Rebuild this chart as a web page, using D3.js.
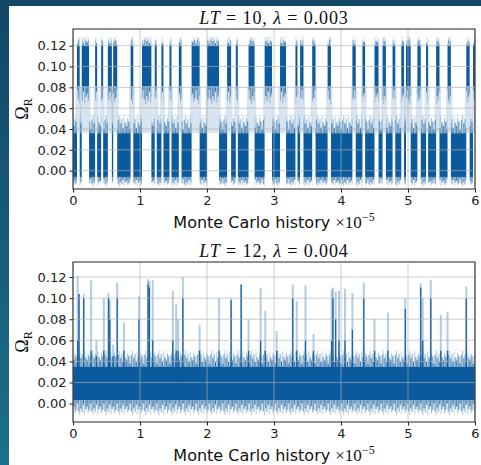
<!DOCTYPE html>
<html>
<head>
<meta charset="utf-8">
<script src="https://cdn.jsdelivr.net/npm/d3@7"></script>
<style>
  body { margin: 0; }
  svg { display: block; }
</style>
</head>
<body>
<script>
var xTicks = [0, 1, 2, 3, 4, 5, 6];
var yTicks = [0, 0.02, 0.04, 0.06, 0.08, 0.10, 0.12];

// LT=10 : stretches of the history spent in the upper state (x in units of 1e5)
var highRuns = [[0.06,0.10],[0.13,0.24],[0.33,0.36],[0.42,0.45],[0.52,0.58],[0.60,0.66],[0.86,0.90],
  [1.03,1.17],[1.22,1.25],[1.32,1.35],[1.44,1.47],[1.58,1.62],[1.77,1.89],[2.00,2.18],[2.30,2.36],
  [2.43,2.46],[2.62,2.71],[2.86,2.97],[3.09,3.18],[3.32,3.35],[3.39,3.44],[3.57,3.62],[3.80,3.85],
  [4.17,4.22],[4.32,4.36],[4.50,4.56],[4.62,4.67],[4.77,4.81],[4.90,4.94],[4.97,5.04],[5.14,5.19],
  [5.27,5.30],[5.42,5.47],[5.59,5.64],[5.87,5.92],[5.97,6.00]];
// dense part and the extreme values reached in each state
var lowBand = [-0.006, 0.036], lowReach = [-0.015, 0.053];
var highBand = [0.081, 0.120], highReach = [0.064, 0.128];

// LT=12 : bulk band and excursions [x, peak, top of dense part]
var bulkBand = [0.003, 0.035], bulkReach = [-0.011, 0.050];
var spikes = [[0.07,0.121,0.06],[0.09,0.104,0.104],[0.16,0.104,0.10],[0.27,0.117,0.05],[0.35,0.060,0.045],
  [0.46,0.100,0.05],[0.53,0.105,0.10],[0.55,0.098,0.08],[0.60,0.056,0.045],[0.66,0.115,0.10],
  [0.76,0.077,0.05],[0.985,0.102,0.08],[1.12,0.118,0.113],[1.14,0.116,0.11],[1.19,0.117,0.06],
  [1.49,0.107,0.06],[1.54,0.094,0.05],[1.57,0.080,0.05],[1.64,0.120,0.10],[1.89,0.075,0.05],
  [2.18,0.100,0.05],[2.36,0.100,0.098],[2.51,0.113,0.113],[2.62,0.080,0.05],[2.80,0.110,0.06],
  [2.87,0.088,0.05],[3.04,0.069,0.05],[3.28,0.113,0.10],[3.34,0.097,0.05],[3.47,0.112,0.06],
  [3.59,0.066,0.05],[3.86,0.108,0.06],[3.88,0.110,0.10],[3.92,0.106,0.08],[3.97,0.107,0.06],
  [4.06,0.109,0.06],[4.17,0.105,0.07],[4.34,0.115,0.10],[4.50,0.080,0.05],[4.70,0.086,0.05],
  [4.96,0.100,0.09],[5.19,0.114,0.11],[5.22,0.100,0.06],[5.34,0.117,0.10],[5.49,0.084,0.05],
  [5.59,0.087,0.05],[5.87,0.111,0.10]];

var W = 481, H = 465;
var blue = "#0b5a9e";

var svg = d3.select("body").append("svg")
    .attr("width", W)
    .attr("height", H);

var defs = svg.append("defs");
var grad = defs.append("linearGradient").attr("id", "bg")
    .attr("x1", 0).attr("y1", 0).attr("x2", 0).attr("y2", 1);
grad.append("stop").attr("offset", "0%").attr("stop-color", "#124765");
grad.append("stop").attr("offset", "100%").attr("stop-color", "#1c6f8e");

svg.append("rect").attr("width", W).attr("height", H).attr("fill", "url(#bg)");
svg.append("rect").attr("x", 9).attr("y", 6).attr("width", W - 9).attr("height", H - 6).attr("fill", "#fff");

var x = d3.scaleLinear().domain([0, 6]).range([73, 475]);

// hair texture for the noisy edge of a dense band (purely a fill style)
var hairLen = [1, 0.55, 0.8, 0.3, 0.95, 0.6, 0.4, 0.85, 0.65, 0.2, 0.75];
var hairOp = [0.35, 0.8, 0.5, 0.9, 0.3, 0.75, 0.9, 0.45, 0.7, 0.9, 0.6];
var nPat = 0;
function hairs(yEdge, yEnd) {
    var id = "h" + (nPat++);
    var len = Math.abs(yEnd - yEdge), up = yEnd < yEdge;
    var p = defs.append("pattern").attr("id", id).attr("patternUnits", "userSpaceOnUse")
        .attr("width", hairLen.length * 1.2).attr("height", len + 1)
        .attr("patternTransform", "translate(0," + Math.min(yEdge, yEnd) + ")");
    hairLen.forEach(function (f, i) {
        p.append("line")
            .attr("x1", i * 1.2 + 0.6).attr("x2", i * 1.2 + 0.6)
            .attr("y1", up ? len + 1 : 0).attr("y2", up ? len - f * len : f * len)
            .attr("stroke", blue).attr("stroke-width", 1.1).attr("opacity", hairOp[i]);
    });
    return "url(#" + id + ")";
}

function panel(top, ydom, id, title) {
    var y = d3.scaleLinear().domain(ydom).range([top + 160, top]);
    defs.append("clipPath").attr("id", id)
        .append("rect").attr("x", 73).attr("y", top).attr("width", 402).attr("height", 160);
    var g = svg.append("g");
    var marks = g.append("g").attr("clip-path", "url(#" + id + ")");

    // grid goes over the trace, as in the original
    var grid = g.append("g").attr("stroke", "#b0b0b0").attr("stroke-width", 0.8).attr("opacity", 0.8);
    grid.selectAll(".gx").data(xTicks).enter().append("line")
        .attr("x1", d => x(d)).attr("x2", d => x(d))
        .attr("y1", top).attr("y2", top + 160);
    grid.selectAll(".gy").data(yTicks).enter().append("line")
        .attr("x1", 73).attr("x2", 475)
        .attr("y1", d => y(d)).attr("y2", d => y(d));

    g.append("rect").attr("x", 73).attr("y", top).attr("width", 402).attr("height", 160)
        .attr("fill", "none").attr("stroke", "#222").attr("stroke-width", 1);

    var ax = g.append("g").attr("transform", "translate(0," + (top + 160) + ")")
        .call(d3.axisBottom(x).tickValues(xTicks).tickSize(3.5).tickPadding(3).tickFormat(d3.format("d")));
    var ay = g.append("g").attr("transform", "translate(73,0)")
        .call(d3.axisLeft(y).tickValues(yTicks).tickSize(3.5).tickPadding(3).tickFormat(d3.format(".2f")));
    [ax, ay].forEach(function (a) {
        a.select(".domain").remove();
        a.selectAll("text").attr("font-family", "DejaVu Sans").attr("font-size", 13).attr("fill", "#222");
        a.selectAll("line").attr("stroke", "#222");
    });

    var t = g.append("text").attr("x", 274).attr("y", top - 5).attr("text-anchor", "middle")
        .attr("font-family", "Liberation Serif").attr("font-size", 18).attr("letter-spacing", 0.9).attr("fill", "#111");
    t.append("tspan").attr("font-style", "italic").text("LT");
    t.append("tspan").text(" = " + title[0] + ", ");
    t.append("tspan").attr("font-style", "italic").text("λ");
    t.append("tspan").text(" = " + title[1]);

    var xl = g.append("text").attr("x", 274).attr("y", top + 199).attr("text-anchor", "middle")
        .attr("font-family", "DejaVu Sans").attr("font-size", 16).attr("fill", "#111");
    xl.append("tspan").text("Monte Carlo history ");
    xl.append("tspan").attr("font-family", "Liberation Serif").attr("font-size", 17).text("×10");
    xl.append("tspan").attr("font-family", "Liberation Serif").attr("font-size", 12).attr("dy", -7).text("−5");

    var yl = g.append("text").attr("transform", "translate(28," + (top + 80) + ") rotate(-90)")
        .attr("text-anchor", "middle").attr("font-family", "Liberation Serif").attr("font-size", 18).attr("fill", "#111");
    yl.append("tspan").text("Ω");
    yl.append("tspan").attr("font-size", 12).attr("dy", 4).text("R");

    return { y: y, marks: marks };
}

// dense band plus hairy edges reaching out to the extremes
function state(sel, y, runs, dense, reach) {
    var fUp = hairs(y(dense[1]), y(reach[1]));
    var fDn = hairs(y(dense[0]), y(reach[0]));
    var r = sel.selectAll(null).data(runs).enter().append("g");
    r.append("rect")
        .attr("x", d => x(d[0])).attr("width", d => Math.max(1, x(d[1]) - x(d[0])))
        .attr("y", y(reach[1])).attr("height", y(dense[1]) - y(reach[1]))
        .attr("fill", fUp);
    r.append("rect")
        .attr("x", d => x(d[0])).attr("width", d => Math.max(1, x(d[1]) - x(d[0])))
        .attr("y", y(dense[0])).attr("height", y(reach[0]) - y(dense[0]))
        .attr("fill", fDn);
    r.append("rect")
        .attr("x", d => x(d[0])).attr("width", d => Math.max(1, x(d[1]) - x(d[0])))
        .attr("y", y(dense[1])).attr("height", y(dense[0]) - y(dense[1]))
        .attr("fill", blue);
}

// ---- top panel
var p1 = panel(29, [-0.01757, 0.1360], "c1", ["10", "0.003"]);
var lowRuns = [];
var prev = 0;
highRuns.forEach(function (r) {
    if (r[0] > prev) lowRuns.push([prev, r[0]]);
    prev = r[1];
});
if (prev < 6) lowRuns.push([prev, 6]);

var g1 = p1.marks.append("g");
// switching between the two states
g1.selectAll(".sw").data(highRuns).enter().append("rect")
    .attr("x", d => x(d[0]) - 1.5)
    .attr("width", d => x(d[1]) - x(d[0]) + 3)
    .attr("y", p1.y(highBand[0]))
    .attr("height", p1.y(lowBand[1]) - p1.y(highBand[0]))
    .attr("fill", blue).attr("opacity", 0.16);
state(g1, p1.y, lowRuns, lowBand, lowReach);
state(g1, p1.y, highRuns, highBand, highReach);

// ---- bottom panel
var p2 = panel(262, [-0.0175, 0.1343], "c2", ["12", "0.004"]);
var g2 = p2.marks.append("g");
g2.selectAll(".sp").data(spikes).enter().append("line")
    .attr("x1", d => x(d[0])).attr("x2", d => x(d[0]))
    .attr("y1", p2.y(0.02)).attr("y2", d => p2.y(d[1]))
    .attr("stroke", blue).attr("stroke-width", 2).attr("opacity", 0.3);
state(g2, p2.y, [[0, 6]], bulkBand, bulkReach);
g2.selectAll(".spd").data(spikes).enter().append("line")
    .attr("x1", d => x(d[0])).attr("x2", d => x(d[0]))
    .attr("y1", p2.y(0.02)).attr("y2", d => p2.y(d[2]))
    .attr("stroke", blue).attr("stroke-width", 1.3).attr("opacity", 0.9);
</script>
</body>
</html>
